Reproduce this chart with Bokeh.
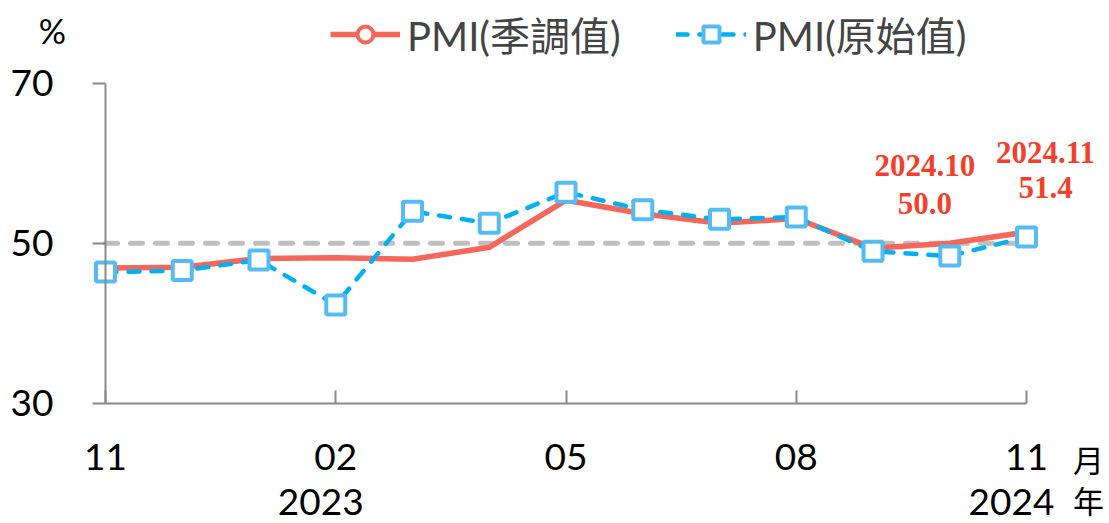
from bokeh.plotting import figure
from bokeh.models import Range1d, FixedTicker, Legend, LegendItem, Label, ColumnDataSource
from bokeh.embed import file_html
from bokeh.resources import INLINE

# ---- data ----
months = ["11", "12", "01", "02", "03", "04", "05", "06", "07", "08", "09", "10", "11"]
pmi_sa = [46.9, 47.0, 48.1, 48.2, 48.0, 49.5, 55.4, 53.7, 52.5, 53.1, 49.4, 50.0, 51.4]
pmi_raw = [46.4, 46.6, 47.9, 42.3, 54.0, 52.5, 56.4, 54.2, 53.0, 53.3, 49.0, 48.4, 50.8]
tick_index = [0, 3, 6, 9, 12]
year_index = [3, 12]
year_labels = ["2023", "2024"]
y_ticks = [30, 50, 70]
ref_level = [50, 50]
series_names = ["PMI(季調值)", "PMI(原始值)"]

x = list(range(len(months)))
src = ColumnDataSource(dict(x=x, sa=pmi_sa, raw=pmi_raw))

LATIN = "Lato"
MIX = "Lato, 'Noto Sans CJK TC'"
CJK = "Noto Sans CJK TC"
RED = "#F4675A"
BLUE = "#00B0F0"
MK = "#55BBF5"
AX = "#898989"
ANN = "#F2402D"

# the frame covers the whole canvas; the axes are placed inside it
p = figure(width=1109, height=523, output_backend="svg", toolbar_location=None,
           x_range=Range1d(-1.368, 13.081), y_range=Range1d(14.95, 80.38),
           min_border_left=0, min_border_right=0, min_border_top=0, min_border_bottom=0)
p.outline_line_color = None
p.xgrid.visible = False
p.ygrid.visible = False
p.background_fill_color = "white"
p.border_fill_color = "white"

# y axis
ya = p.yaxis[0]
ya.fixed_location = 0
ya.bounds = (30, 70)
ya.ticker = FixedTicker(ticks=y_ticks)
ya.minor_tick_line_color = None
ya.major_tick_in = 0
ya.major_tick_out = 13
ya.axis_line_color = AX
ya.axis_line_width = 2
ya.major_tick_line_color = AX
ya.major_tick_line_width = 2
ya.major_label_standoff = 39
ya.major_label_text_font = LATIN
ya.major_label_text_font_size = "37px"
ya.major_label_text_color = "black"

# x axis (months)
xa = p.xaxis[0]
xa.fixed_location = 30
xa.bounds = (0, 12)
xa.ticker = FixedTicker(ticks=tick_index)
xa.major_label_overrides = {i: months[i] for i in tick_index}
xa.minor_tick_line_color = None
xa.major_tick_in = 13
xa.major_tick_out = 0
xa.axis_line_color = AX
xa.axis_line_width = 2
xa.major_tick_line_color = AX
xa.major_tick_line_width = 2
xa.major_label_standoff = 41
xa.major_label_text_font = LATIN
xa.major_label_text_font_size = "37px"
xa.major_label_text_color = "black"

# year row under the month labels
for i, yr in zip(year_index, year_labels):
    p.add_layout(Label(x=x[i], y=y_ticks[0], x_offset=-15, y_offset=-99, text=yr,
                       text_font=LATIN, text_font_size="37px", text_align="center",
                       text_baseline="middle", text_color="black"))

# reference line at 50
p.line(x=[x[0], x[-1]], y=ref_level, line_color="#BFBFBF", line_width=5,
       line_dash="12 13", line_cap="round")

# seasonally adjusted
r_sa = p.line("x", "sa", source=src, line_color=RED, line_width=5.5, line_join="round")
# marker used only for the legend sample (the line itself has no markers)
r_sa_mk = p.scatter(x=[x[0]], y=[float("nan")], marker="circle", size=20, fill_color="white",
                    line_color=RED, line_width=4)

# raw
r_raw = p.line("x", "raw", source=src, line_color=BLUE, line_width=4.5,
               line_dash="11 12", line_cap="round")
r_raw_mk = p.scatter("x", "raw", source=src, marker="square", size=19, fill_color="white",
                     line_color=MK, line_width=4)

legend = Legend(items=[LegendItem(label=series_names[0], renderers=[r_sa, r_sa_mk]),
                       LegendItem(label=series_names[1], renderers=[r_raw, r_raw_mk])],
                orientation="horizontal", location=(330, 460),
                label_text_font=MIX, label_text_font_size="40px",
                glyph_width=70, glyph_height=40, label_standoff=7, spacing=55,
                padding=0, margin=0, border_line_color=None, background_fill_alpha=0)
p.add_layout(legend)

# annotations
ann_style = dict(text_font="Liberation Serif", text_font_style="bold",
                 text_font_size="31px", text_color=ANN, text_align="center",
                 text_baseline="middle")
for i, dx, dy1, dy2 in [(11, -25, 78, 40), (12, 19, 80, 45)]:
    p.add_layout(Label(x=x[i], y=pmi_sa[i], x_offset=dx, y_offset=dy1,
                       text=f"2024.{months[i]}", **ann_style))
    p.add_layout(Label(x=x[i], y=pmi_sa[i], x_offset=dx, y_offset=dy2,
                       text=f"{pmi_sa[i]:.1f}", **ann_style))

# unit labels
p.add_layout(Label(x=0, y=70, x_offset=-53, y_offset=53, text="%",
                   text_font=LATIN, text_font_size="34px", text_align="center",
                   text_baseline="middle", text_color="black"))
cjk_style = dict(text_font=CJK, text_font_size="31px", text_align="center",
                 text_baseline="middle", text_color="black")
p.add_layout(Label(x=12, y=30, x_offset=62, y_offset=-55, text="月", **cjk_style))
p.add_layout(Label(x=12, y=30, x_offset=62, y_offset=-96, text="年", **cjk_style))

open("out.html", "w").write(file_html(p, INLINE))
